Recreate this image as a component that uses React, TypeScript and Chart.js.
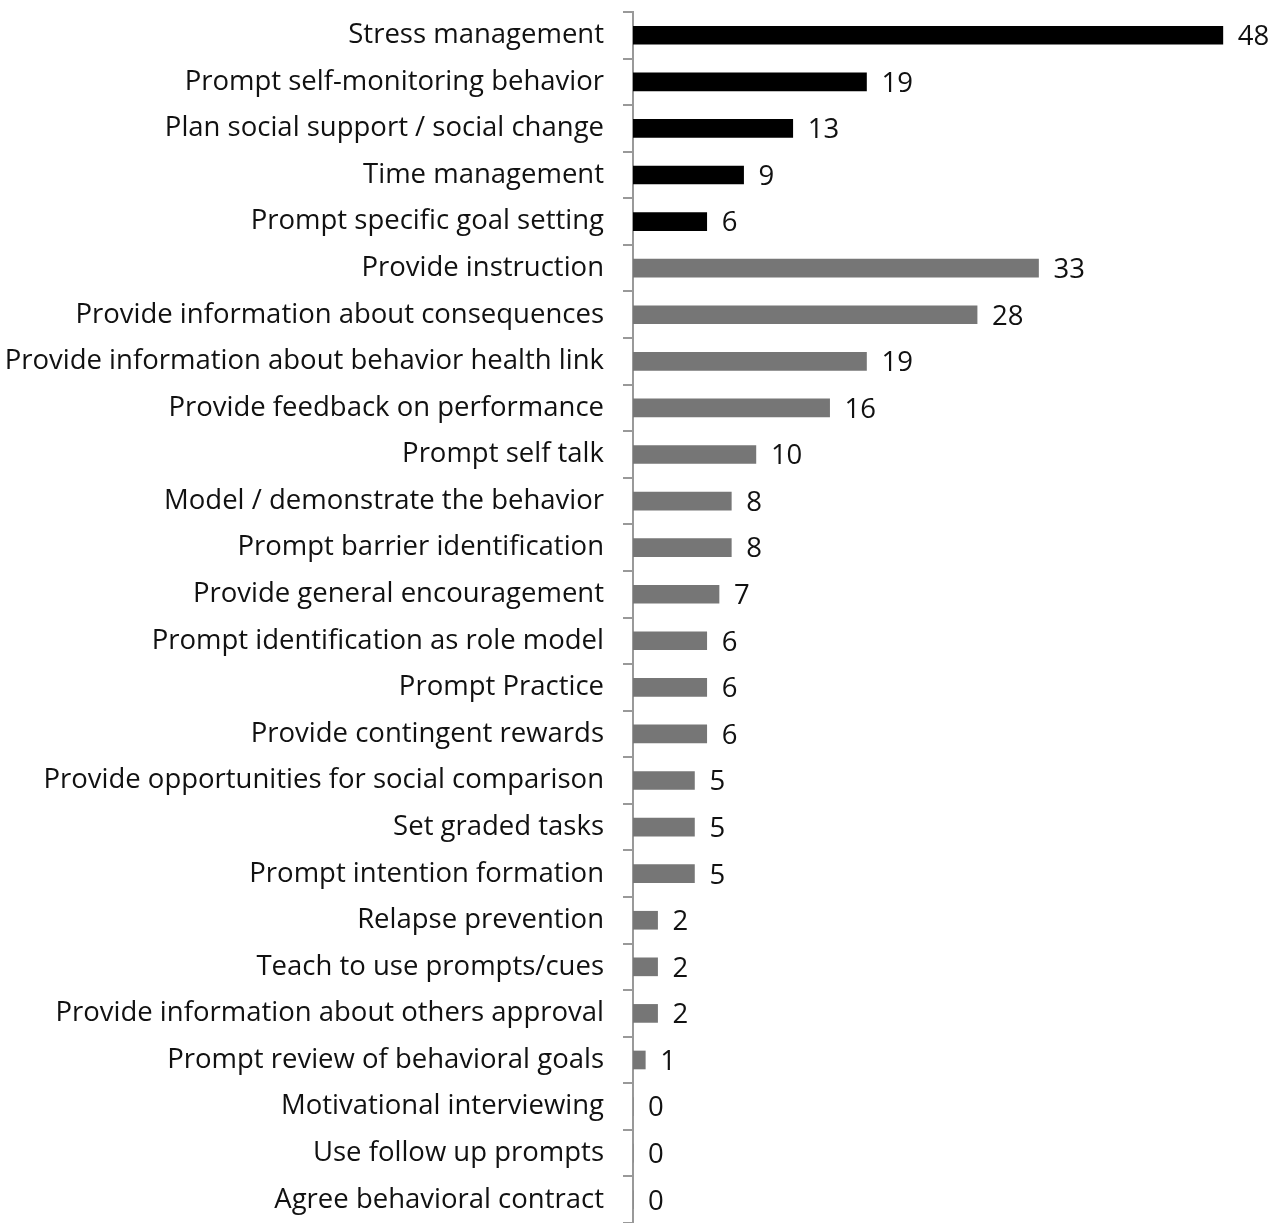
import React, { useEffect, useRef } from "react";
import { Chart, registerables } from "chart.js";

Chart.register(...registerables);

const categories = [
  "Stress management",
  "Prompt self-monitoring behavior",
  "Plan social support / social change",
  "Time management",
  "Prompt specific goal setting",
  "Provide instruction",
  "Provide information about consequences",
  "Provide information about behavior health link",
  "Provide feedback on performance",
  "Prompt self talk",
  "Model / demonstrate the behavior",
  "Prompt barrier identification",
  "Provide general encouragement",
  "Prompt identification as role model",
  "Prompt Practice",
  "Provide contingent rewards",
  "Provide opportunities for social comparison",
  "Set graded tasks",
  "Prompt intention formation",
  "Relapse prevention",
  "Teach to use prompts/cues",
  "Provide information about others approval",
  "Prompt review of behavioral goals",
  "Motivational interviewing",
  "Use follow up prompts",
  "Agree behavioral contract",
];

const values = [48, 19, 13, 9, 6, 33, 28, 19, 16, 10, 8, 8, 7, 6, 6, 6, 5, 5, 5, 2, 2, 2, 1, 0, 0, 0];

const highlightCount = 5;
const FONT = "'Open Sans', Lato, sans-serif";

const valueLabels = {
  id: "valueLabels",
  afterDatasetsDraw(chart: any) {
    const ctx = chart.ctx;
    const meta = chart.getDatasetMeta(0);
    ctx.save();
    ctx.font = `27.5px ${FONT}`;
    ctx.fillStyle = "#111";
    ctx.textAlign = "left";
    ctx.textBaseline = "middle";
    meta.data.forEach((bar: any, i: number) => {
      ctx.fillText(String(values[i]), bar.x + 15, bar.y + 2);
    });
    ctx.restore();
  },
};

export default function App() {
  const ref = useRef<HTMLCanvasElement | null>(null);
  useEffect(() => {
    if (!ref.current) return;
    const chart = new Chart(ref.current, {
      type: "bar",
      data: {
        labels: categories,
        datasets: [
          {
            data: values,
            backgroundColor: values.map((_, i) => (i < highlightCount ? "#000000" : "#767676")),
            barThickness: 18,
          },
        ],
      },
      options: {
        indexAxis: "y",
        animation: false,
        responsive: false,
        maintainAspectRatio: false,
        layout: { padding: { top: 12, right: 10, bottom: -3, left: 0 } },
        plugins: { legend: { display: false }, tooltip: { enabled: false } },
        scales: {
          x: { display: false, min: 0, max: 52 },
          y: {
            afterFit(scale: any) {
              scale.width = 633;
              scale.paddingTop = 0;
              scale.paddingBottom = 0;
            },
            grid: {
              offset: true,
              drawOnChartArea: false,
              drawTicks: true,
              tickLength: 10,
              color: "#999999",
              lineWidth: 2,
            },
            border: { color: "#999999", width: 2 },
            ticks: {
              padding: 19,
              color: "#111",
              font: { family: FONT, size: 27.5 },
            },
          },
        },
      },
      plugins: [valueLabels],
    });
    return () => chart.destroy();
  }, []);
  return (
    <div style={{ position: "absolute", left: 0, top: 0, width: 1282, height: 1223, background: "#fff" }}>
      <canvas ref={ref} width={1282} height={1223} style={{ display: "block" }} />
    </div>
  );
}
